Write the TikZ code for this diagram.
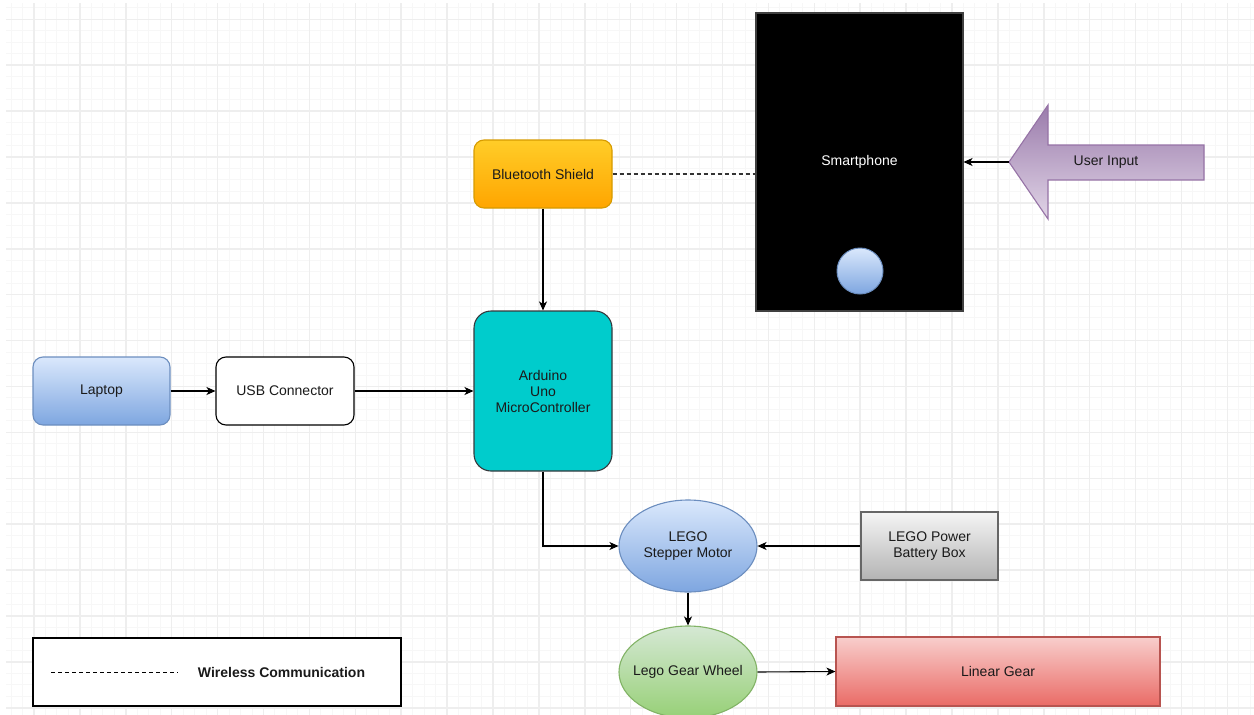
\documentclass[tikz,border=0pt]{standalone}
\usepackage{fontspec}
\setmainfont{Liberation Sans}
\usetikzlibrary{arrows.meta,shapes.geometric}
\definecolor{gridmin}{HTML}{F7F7F7}
\definecolor{gridmaj}{HTML}{EEEEEE}
\definecolor{txt}{HTML}{1A1A1A}
\definecolor{orTop}{HTML}{FFCD28}
\definecolor{orBot}{HTML}{FFA500}
\definecolor{orLine}{HTML}{D79B00}
\definecolor{blTop}{HTML}{DAE8FC}
\definecolor{blBot}{HTML}{7EA6E0}
\definecolor{blLine}{HTML}{6C8EBF}
\definecolor{grTop}{HTML}{D5E8D4}
\definecolor{grBot}{HTML}{97D077}
\definecolor{grLine}{HTML}{82B366}
\definecolor{rdTop}{HTML}{F8CECC}
\definecolor{rdBot}{HTML}{EA6B66}
\definecolor{rdLine}{HTML}{B85450}
\definecolor{gyTop}{HTML}{F5F5F5}
\definecolor{gyBot}{HTML}{B3B3B3}
\definecolor{gyLine}{HTML}{666666}
\definecolor{puTop}{HTML}{9A7BAB}
\definecolor{puBot}{HTML}{E1D5E7}
\definecolor{puLine}{HTML}{9673A6}
\definecolor{cyan}{HTML}{00CCCC}
\definecolor{darkline}{HTML}{36393D}
\begin{document}
\begin{tikzpicture}[x=1pt,y=-1pt,
  every node/.style={font=\fontsize{14}{16}\selectfont, text=txt, inner sep=0pt, align=center},
  gminor/.style={draw=gridmin, line width=1pt},
  gmajor/.style={draw=gridmaj, line width=1.5pt},
  shape box/.style={rectangle, line width=1.1pt},
  oval/.style={ellipse, line width=1.1pt, inner xsep=-15pt, inner ysep=0pt, minimum width=138, minimum height=92},
  arr/.style={draw=black, line width=1.1pt, -{Stealth[length=9pt,width=8pt,inset=2.5pt]}},
  wl/.style={draw=black!80, line width=1.1pt, dash pattern=on 4pt off 3pt}
]
\useasboundingbox (0,0) rectangle (1254,715);
\fill[white] (0,0) rectangle (1254,715);
\begin{scope}
  \clip (6,3) rectangle (1254,715);
  \foreach \i in {-3,...,107} \draw[gminor] ({34+\i*11.475},3) -- ({34+\i*11.475},715);
  \foreach \j in {-2,...,62} \draw[gminor] (6,{19.3+\j*11.475}) -- (1254,{19.3+\j*11.475});
  \foreach \i in {-1,...,27} \draw[gmajor] ({34+\i*45.9},3) -- ({34+\i*45.9},715);
  \foreach \j in {-1,...,16} \draw[gmajor] (6,{19.3+\j*45.9}) -- (1254,{19.3+\j*45.9});
\end{scope}

% nodes
\node[shape box, rounded corners=10pt, top color=orTop, bottom color=orBot, draw=orLine,
      minimum width=138, minimum height=68] (bt) at (543,174) {Bluetooth Shield};
\node[shape box, fill=black, draw=black!75, minimum width=207, minimum height=298, text=white] (phone) at (859.5,162) {Smartphone};
\node[circle, line width=1pt, top color=blTop, bottom color=blBot, draw=blLine, minimum size=46] (btn) at (860,271) {};
\shade[top color=puTop, bottom color=puBot, draw=puLine, line width=1.1pt]
  (1009,162) -- (1048,105) -- (1048,145) -- (1204,145) -- (1204,180) -- (1048,180) -- (1048,219) -- cycle;
\coordinate (uitip) at (1009,162);
\node (ui) at (1106,162) {User Input};

\node[shape box, rounded corners=17pt, fill=cyan, draw=darkline, minimum width=138, minimum height=160] (ard) at (543,391) {Arduino\\Uno\\MicroController};
\node[shape box, rounded corners=10pt, top color=blTop, bottom color=blBot, draw=blLine, minimum width=137, minimum height=68] (lap) at (101.5,391) {Laptop};
\node[shape box, rounded corners=10pt, fill=white, draw=black, minimum width=138, minimum height=68] (usb) at (285,391) {USB Connector};

\node[oval, top color=blTop, bottom color=blBot, draw=blLine] (step) at (688,546) {LEGO\\Stepper Motor};
\node[shape box, top color=gyTop, bottom color=gyBot, draw=gyLine, minimum width=137, minimum height=68] (bat) at (929.5,546) {LEGO Power\\Battery Box};
\node[oval, top color=grTop, bottom color=grBot, draw=grLine] (gear) at (688,672) {Lego Gear Wheel};
\node[shape box, top color=rdTop, bottom color=rdBot, draw=rdLine, minimum width=324, minimum height=69] (lin) at (998,671.5) {Linear Gear};

% legend
\node[shape box, fill=white, draw=black, minimum width=368, minimum height=68] (leg) at (217,672) {};
\coordinate (lgA) at (51,672);
\coordinate (lgB) at (178,672);
\draw[draw=black, line width=1pt, dash pattern=on 4pt off 3pt] (lgA) -- (lgB);
\node[font=\fontsize{14}{16}\selectfont\bfseries] (legtxt) at (281.5,672) {Wireless Communication};

% connectors
\draw[wl] (bt.east) -- (bt.east -| phone.west);
\draw[arr] (uitip) -- (phone.east);
\draw[arr] (bt.south) -- (ard.north);
\draw[arr] (lap.east) -- (usb.west);
\draw[arr] (usb.east) -- (ard.west);
\draw[arr] (ard.south) |- (step.west);
\draw[arr] (bat.west) -- (step.east);
\draw[arr] (step.south) -- (gear.north);
\draw[arr] (gear.east) -- (lin.west);
\end{tikzpicture}
\end{document}
